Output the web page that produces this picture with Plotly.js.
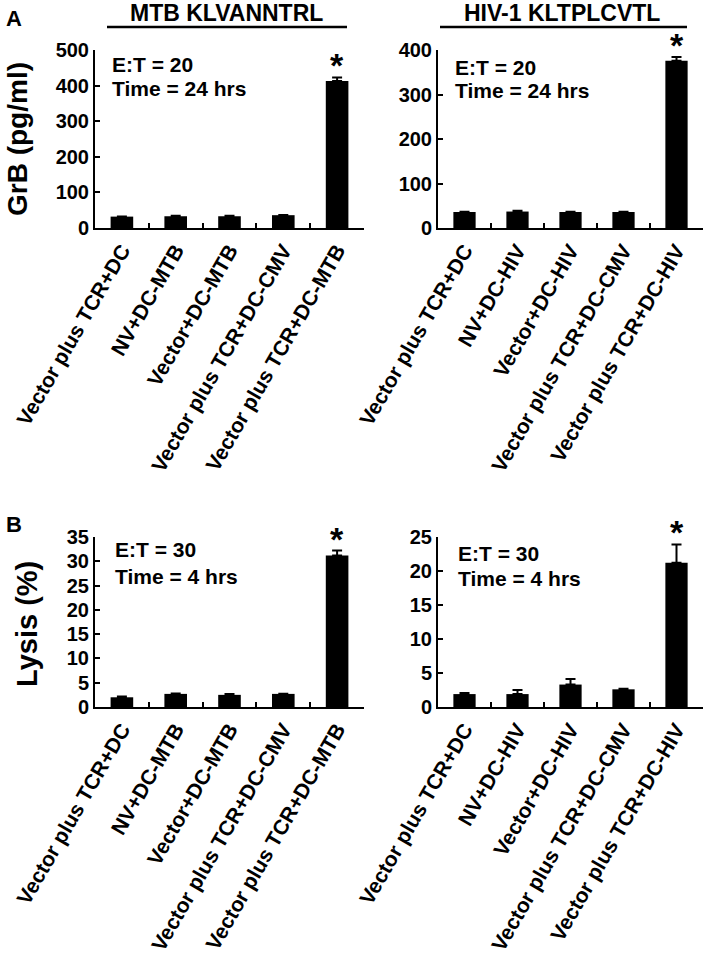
<!DOCTYPE html>
<html>
<head>
<meta charset="utf-8">
<script src="https://cdn.plot.ly/plotly-3.0.1.min.js"></script>
<style>html,body{margin:0;padding:0;background:#fff;}#chart{width:709px;height:961px;}</style>
</head>
<body>
<div id="chart"></div>
<script>
// ---- data ----
const catsMTB = ["Vector plus TCR+DC", "NV+DC-MTB", "Vector+DC-MTB", "Vector plus TCR+DC-CMV", "Vector plus TCR+DC-MTB"];
const catsHIV = ["Vector plus TCR+DC", "NV+DC-HIV", "Vector+DC-HIV", "Vector plus TCR+DC-CMV", "Vector plus TCR+DC-HIV"];
const grbMTB = [32, 33, 33, 36, 413];
const grbMTBErr = [0.5, 1.5, 1.5, 0.5, 10];
const grbHIV = [36, 37, 36, 36, 376];
const grbHIVErr = [0.5, 1.5, 0.5, 0.5, 8];
const lysisMTB = [2.0, 2.7, 2.5, 2.7, 31.2];
const lysisMTBErr = [0.15, 0.1, 0.2, 0.05, 1.0];
const lysisHIV = [1.9, 1.9, 3.3, 2.6, 21.2];
const lysisHIVErr = [0.15, 0.6, 0.8, 0.1, 2.7];
const panelTitles = ["MTB KLVANNTRL", "HIV-1 KLTPLCVTL"];
const yTitles = ["GrB (pg/ml)", "Lysis (%)"];
const condA = ["E:T = 20", "Time = 24 hrs"];
const condB = ["E:T = 30", "Time = 4 hrs"];

const FONT = "Liberation Sans, Arial, sans-serif";
const W = 709, H = 961;
const px = v => v / W;
const py = v => 1 - v / H;

function barTrace(x, y, err, xa, ya) {
  return {
    type: "bar", x: x, y: y, xaxis: xa, yaxis: ya, width: 0.42,
    marker: {color: "#000", line: {width: 0}},
    error_y: {type: "data", symmetric: false, array: err, arrayminus: err.map(() => 0),
              color: "#000", thickness: 2, width: 5},
    hoverinfo: "skip", showlegend: false
  };
}

const data = [
  barTrace(catsMTB, grbMTB, grbMTBErr, "x", "y"),
  barTrace(catsHIV, grbHIV, grbHIVErr, "x2", "y2"),
  barTrace(catsMTB, lysisMTB, lysisMTBErr, "x3", "y3"),
  barTrace(catsHIV, lysisHIV, lysisHIVErr, "x4", "y4")
];

function xAxis(dom, anchor) {
  return {
    domain: dom, anchor: anchor, type: "category", range: [-0.5, 4.5],
    showline: true, linecolor: "#000", linewidth: 2,
    ticks: "inside", tickson: "boundaries", ticklen: 5, tickwidth: 2, tickcolor: "#000",
    tickangle: -60, tickfont: {family: FONT, size: 21, color: "#000", weight: "bold"},
    showgrid: false, zeroline: false, automargin: false, fixedrange: true
  };
}
function yAxis(dom, anchor, range, dtick) {
  return {
    domain: dom, anchor: anchor, range: range, dtick: dtick, tick0: 0,
    showline: true, linecolor: "#000", linewidth: 2,
    ticks: "inside", ticklen: 5, tickwidth: 2, tickcolor: "#000",
    tickfont: {family: FONT, size: 20, color: "#000", weight: "bold"},
    showgrid: false, zeroline: false, automargin: false, fixedrange: true
  };
}

const xL = [px(95), px(364)], xR = [px(438), px(703)];
const yT = [py(228), py(50)], yB = [py(707), py(537)];

const ann = [];
function txt(x, y, text, size, opts) {
  ann.push(Object.assign({x: x, y: y, xref: "paper", yref: "paper", text: text, showarrow: false,
    font: {family: FONT, size: size, color: "#000", weight: "bold"}, xanchor: "center", yanchor: "middle"}, opts || {}));
}
// panel letters
txt(px(14), py(19), "A", 22);
txt(px(14), py(524), "B", 22);
// panel titles
txt(px(226), py(13), panelTitles[0], 23);
txt(px(562), py(13), panelTitles[1], 23);
// y titles
txt(px(17), py(139), yTitles[0], 28, {textangle: -90});
txt(px(27), py(624), yTitles[1], 29, {textangle: -90});
// conditions
txt(px(110), py(65), condA[0], 21, {xanchor: "left"});
txt(px(110), py(88), condA[1], 21, {xanchor: "left"});
txt(px(453), py(67), condA[0], 21, {xanchor: "left"});
txt(px(453), py(90), condA[1], 21, {xanchor: "left"});
txt(px(113), py(549), condB[0], 21, {xanchor: "left"});
txt(px(113), py(576), condB[1], 21, {xanchor: "left"});
txt(px(456), py(553), condB[0], 21, {xanchor: "left"});
txt(px(456), py(578), condB[1], 21, {xanchor: "left"});
// asterisks above significant bars
[[catsMTB, grbMTB, grbMTBErr, "x", "y"], [catsHIV, grbHIV, grbHIVErr, "x2", "y2"],
 [catsMTB, lysisMTB, lysisMTBErr, "x3", "y3"], [catsHIV, lysisHIV, lysisHIVErr, "x4", "y4"]].forEach(p => {
  ann.push({x: p[0][4], y: p[1][4] + p[2][4], xref: p[3], yref: p[4], text: "*", showarrow: false,
    yanchor: "bottom", yshift: -9, font: {family: FONT, size: 34, color: "#000", weight: "bold"}});
});

const layout = {
  width: W, height: H, margin: {l: 0, r: 0, t: 0, b: 0},
  paper_bgcolor: "#fff", plot_bgcolor: "#fff", showlegend: false, bargap: 0.5,
  font: {family: FONT, color: "#000"},
  xaxis: xAxis(xL, "y"), yaxis: yAxis(yT, "x", [0, 500], 100),
  xaxis2: xAxis(xR, "y2"), yaxis2: yAxis(yT, "x2", [0, 400], 100),
  xaxis3: xAxis(xL, "y3"), yaxis3: yAxis(yB, "x3", [0, 35], 5),
  xaxis4: xAxis(xR, "y4"), yaxis4: yAxis(yB, "x4", [0, 25], 5),
  annotations: ann,
  shapes: [
    {type: "line", xref: "paper", yref: "paper", x0: px(107), x1: px(347), y0: py(27), y1: py(27), line: {color: "#000", width: 2.5}},
    {type: "line", xref: "paper", yref: "paper", x0: px(440), x1: px(687), y0: py(27), y1: py(27), line: {color: "#000", width: 2.5}}
  ]
};

Plotly.newPlot("chart", data, layout, {staticPlot: true, displayModeBar: false});
</script>
</body>
</html>
